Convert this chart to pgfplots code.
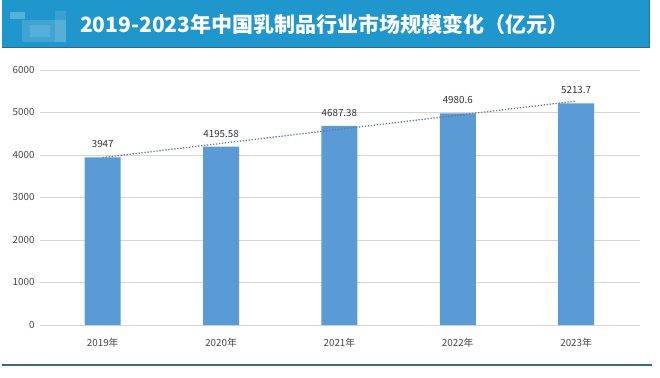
\documentclass[border=0pt]{standalone}
\usepackage{pgfplots}
\pgfplotsset{compat=1.18}
\usepackage{fontspec}
\setmainfont{Noto Sans CJK SC}
\definecolor{barblue}{RGB}{91,155,213}
\definecolor{titleblue}{RGB}{31,150,204}
\definecolor{titleedge}{RGB}{40,110,140}
\definecolor{bottomline}{RGB}{60,106,115}
\definecolor{ticktext}{RGB}{70,70,70}
\definecolor{gridgray}{RGB}{214,214,214}
\definecolor{trendcol}{RGB}{105,120,145}
\begin{document}
\begin{tikzpicture}[x=1bp,y=1bp]
\useasboundingbox (0,0) rectangle (660,377);
\fill[white] (0,0) rectangle (660,377);
% title bar
\fill[titleblue] (2,330) rectangle (649,377);
\draw[titleedge, line width=1bp] (2,330) -- (649,330) -- (649,377);
% blurred logo
\fill[white, opacity=0.25] (10,358) rectangle (25,365);
\fill[white, opacity=0.15] (22,335) rectangle (66,357);
\fill[white, opacity=0.12] (55,335) rectangle (66,366);
\fill[white, opacity=0.12] (30,340) rectangle (50,352);
\node[anchor=west, text=white, font=\bfseries\fontsize{21bp}{25bp}\selectfont, inner sep=0] at (80,353) {2019-2023年中国乳制品行业市场规模变化（亿元）};
% bottom line
\draw[bottomline, line width=2bp] (2,12) -- (652,12);
\begin{axis}[
  at={(40bp,52bp)}, anchor=south west,
  scale only axis, width=600bp, height=255bp,
  xmin=-0.53, xmax=4.54, ymin=0, ymax=6000,
  xtick={0,1,2,3,4},
  xticklabels={2019年,2020年,2021年,2022年,2023年},
  ytick={0,1000,2000,3000,4000,5000,6000},
  ymajorgrids, grid style={gridgray, line width=0.9bp},
  axis line style={draw=none},
  tick style={draw=none},
  tick label style={text=ticktext, font=\fontsize{9.8bp}{11bp}\selectfont},
  /pgf/number format/assume math mode=true,
  xticklabel style={yshift=-10bp},
  yticklabel style={xshift=-2bp},
  scaled y ticks=false,
  yticklabel={\pgfmathprintnumber[fixed,1000 sep={}]{\tick}},
  clip=false,
]
\addplot[ybar, bar width=36bp, fill=barblue, draw=none,
  nodes near coords,
  every node near coord/.append style={text=black!80, font=\fontsize{9.8bp}{11bp}\selectfont, yshift=6bp},
  point meta=explicit symbolic]
  coordinates {(0,3947)[3947] (1,4195.58)[4195.58] (2,4687.38)[4687.38] (3,4980.6)[4980.6] (4,5213.7)[5213.7]};
\addplot[trendcol, line width=1.3bp, dash pattern=on 1.3bp off 1.7bp, mark=none] coordinates {(0,3941.2) (4,5268.5)};
\end{axis}
\end{tikzpicture}
\end{document}
